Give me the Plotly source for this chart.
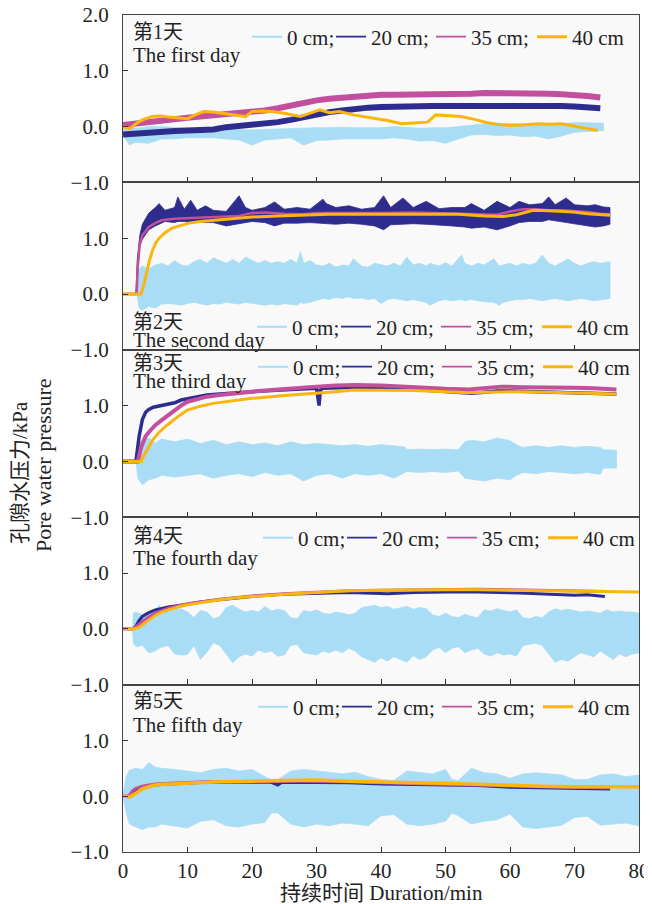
import plotly.graph_objects as go
from plotly.subplots import make_subplots

W, H = 652, 904
# plot area in page pixels (page has an 8 px body margin)
OFF = 8
PL, PR, PT, PB = 123, 639, 15, 852
ML, MR, MT, MB = PL - OFF, W - (PR - OFF), PT - OFF, H - (PB - OFF)

# ---------------- data ----------------
# Day 1
d1_t20 = [0, 2, 4, 6, 8, 10, 12, 14, 16, 18, 20, 22, 24, 26, 28, 30, 32, 34, 36, 38, 40, 42, 44, 46, 48, 50,
          52, 54, 56, 58, 60, 62, 64, 66, 68, 70, 72, 74]
d1_v20 = [-0.14, -0.12, -0.1, -0.08, -0.08, -0.07, -0.07, -0.05, -0.01, 0.01, 0.03, 0.05, 0.08, 0.12, 0.17, 0.23,
          0.26, 0.29, 0.32, 0.34, 0.35, 0.36, 0.36, 0.36, 0.37, 0.37, 0.37, 0.38, 0.38, 0.39, 0.39, 0.39, 0.38,
          0.37, 0.37, 0.36, 0.35, 0.33]
d1_v35 = [0.03, 0.06, 0.09, 0.12, 0.14, 0.16, 0.18, 0.2, 0.22, 0.24, 0.26, 0.29, 0.33, 0.38, 0.43, 0.47, 0.5,
          0.52, 0.54, 0.56, 0.57, 0.57, 0.57, 0.57, 0.58, 0.58, 0.59, 0.59, 0.6, 0.6, 0.61, 0.61, 0.6, 0.59,
          0.58, 0.57, 0.55, 0.52]
d1_t40 = [0, 1, 2, 3, 4.5, 6, 7, 8.5, 10, 11, 12.5, 14, 16, 18, 19, 20, 21.5, 23, 25, 27.5, 29, 30.5, 32, 33.6,
          35.7, 38.4, 41, 43.2, 45, 47.2, 48.5, 50, 52.4, 54.5, 56.5, 58, 60, 62, 64.3, 66, 67.9, 69, 70.5, 72, 73.6]
d1_v40 = [0.0, -0.04, 0.05, 0.12, 0.18, 0.19, 0.17, 0.16, 0.14, 0.2, 0.27, 0.26, 0.23, 0.2, 0.18, 0.27, 0.28,
          0.27, 0.24, 0.18, 0.24, 0.30, 0.25, 0.27, 0.21, 0.16, 0.11, 0.05, 0.06, 0.08, 0.21, 0.2, 0.18, 0.13,
          0.07, 0.04, 0.02, 0.03, 0.05, 0.04, 0.05, 0.03, 0.0, -0.03, -0.07]
d1_t0 = [0, 1, 2, 4, 6, 8, 10, 12, 14, 16, 18, 20, 22, 24, 26, 28, 30, 32, 34, 36, 38, 40, 42, 44, 46, 48, 50,
         52, 54, 56, 58, 60, 62, 64, 66, 68, 70, 72, 74.5]
d1_hi0 = [-0.02, 0.0, -0.03, 0.0, 0.0, -0.02, -0.03, -0.03, -0.04, -0.05, -0.06, -0.06, -0.05, -0.04, -0.03,
          -0.02, -0.02, -0.02, -0.01, -0.02, -0.02, -0.02, 0.0, -0.02, -0.03, -0.02, -0.02, 0.0, 0.03, 0.05,
          0.06, 0.06, 0.05, 0.05, 0.04, 0.06, 0.07, 0.07, 0.06]
d1_lo0 = [-0.15, -0.33, -0.28, -0.3, -0.22, -0.22, -0.2, -0.2, -0.2, -0.22, -0.24, -0.33, -0.24, -0.22, -0.2,
          -0.33, -0.25, -0.24, -0.22, -0.23, -0.22, -0.22, -0.2, -0.22, -0.26, -0.25, -0.3, -0.22, -0.15, -0.14,
          -0.16, -0.15, -0.18, -0.17, -0.22, -0.17, -0.1, -0.08, -0.07]

# Day 2
d2_t20 = [0, 2.0, 2.2, 2.6, 3, 4, 5, 5.6, 6.5, 8, 8.5, 9.5, 10.5, 11.5, 12.8, 14, 16, 18, 19, 20, 22, 23.5, 25,
          27, 29, 31, 31.5, 33, 35, 37, 39, 40.4, 41.5, 43.4, 45, 47, 49, 51, 53, 54, 56, 58, 60, 61.4, 63, 65,
          66, 67, 68.7, 70, 72, 73.2, 74.5, 75.5]
d2_hi20 = [0.01, 0.01, 0.6, 1.05, 1.25, 1.45, 1.55, 1.62, 1.5, 1.55, 1.74, 1.52, 1.68, 1.5, 1.58, 1.5, 1.48,
           1.76, 1.55, 1.5, 1.55, 1.65, 1.52, 1.55, 1.52, 1.7, 1.62, 1.55, 1.58, 1.52, 1.55, 1.76, 1.55, 1.72,
           1.55, 1.66, 1.53, 1.55, 1.55, 1.62, 1.5, 1.66, 1.55, 1.66, 1.6, 1.62, 1.74, 1.6, 1.72, 1.6, 1.58,
           1.6, 1.56, 1.55]
d2_lo20 = [-0.01, -0.01, 0.2, 0.85, 0.98, 1.15, 1.22, 1.25, 1.3, 1.28, 1.3, 1.3, 1.28, 1.3, 1.28, 1.28, 1.22,
           1.25, 1.28, 1.3, 1.28, 1.22, 1.27, 1.27, 1.28, 1.27, 1.26, 1.25, 1.27, 1.25, 1.22, 1.15, 1.24, 1.25,
           1.26, 1.25, 1.24, 1.22, 1.2, 1.18, 1.2, 1.15, 1.22, 1.28, 1.3, 1.3, 1.33, 1.3, 1.28, 1.25, 1.22,
           1.2, 1.22, 1.25]
d2_t35 = [0, 2.1, 2.3, 2.6, 3, 4, 5, 6, 8, 10, 12, 15, 18, 20, 22, 25, 28, 30, 33, 36, 40, 45, 50, 55, 58, 60,
          62, 64, 66, 68, 70, 72, 74, 75.5]
d2_v35 = [0, 0, 0.5, 0.9, 1.05, 1.2, 1.27, 1.32, 1.35, 1.36, 1.37, 1.38, 1.4, 1.45, 1.46, 1.44, 1.43, 1.45,
          1.45, 1.44, 1.45, 1.46, 1.44, 1.42, 1.42, 1.48, 1.52, 1.52, 1.5, 1.5, 1.49, 1.47, 1.44, 1.43]
d2_t40 = [0, 2.8, 3.2, 3.6, 4.1, 4.6, 5.1, 5.6, 6.5, 7.6, 9, 10.2, 12, 13.8, 16, 18, 20, 24, 28, 32, 36, 40,
          44, 48.7, 52, 56, 59, 61, 63.6, 66, 69.8, 72, 75.5]
d2_v40 = [0, 0, 0.15, 0.37, 0.6, 0.79, 0.92, 1.0, 1.1, 1.18, 1.23, 1.27, 1.3, 1.32, 1.34, 1.36, 1.38, 1.4,
          1.42, 1.43, 1.43, 1.43, 1.44, 1.44, 1.43, 1.4, 1.39, 1.42, 1.5, 1.49, 1.47, 1.44, 1.41]
d2_t0 = [0, 2.2, 2.5, 3, 4, 5, 6, 7, 8, 9, 10, 11, 12, 13, 14, 15, 16, 17, 18, 19, 20, 21, 22, 23, 24, 25, 26,
         27, 27.5, 28, 29, 30, 31, 32, 33, 34, 35, 35.7, 37, 38, 39, 40, 41, 42, 43, 44, 45, 46, 47, 47.6, 49,
         50, 51, 52.5, 53, 54, 55, 56, 57.5, 58.3, 59, 60, 61, 62, 63, 64, 65, 66, 67, 68, 69, 70, 71, 72, 73,
         74, 75.5]
d2_hi0 = [0.01, 0.02, 0.45, 0.5, 0.45, 0.52, 0.55, 0.5, 0.6, 0.52, 0.5, 0.58, 0.62, 0.55, 0.65, 0.6, 0.55,
          0.62, 0.55, 0.66, 0.6, 0.55, 0.6, 0.55, 0.58, 0.55, 0.62, 0.55, 0.76, 0.55, 0.6, 0.52, 0.5, 0.55,
          0.48, 0.52, 0.5, 0.63, 0.5, 0.48, 0.55, 0.52, 0.5, 0.55, 0.5, 0.66, 0.52, 0.55, 0.5, 0.55, 0.5, 0.56,
          0.5, 0.7, 0.55, 0.5, 0.55, 0.52, 0.63, 0.5, 0.52, 0.55, 0.5, 0.55, 0.52, 0.55, 0.7, 0.55, 0.5, 0.56,
          0.63, 0.55, 0.5, 0.55, 0.58, 0.55, 0.58]
d2_lo0 = [-0.01, -0.02, -0.25, -0.29, -0.22, -0.25, -0.18, -0.17, -0.18, -0.2, -0.17, -0.15, -0.18, -0.2,
          -0.17, -0.18, -0.15, -0.17, -0.18, -0.15, -0.17, -0.18, -0.2, -0.18, -0.2, -0.17, -0.19, -0.2, -0.15,
          -0.17, -0.15, -0.12, -0.08, -0.1, -0.06, -0.08, -0.05, -0.08, -0.07, -0.1, -0.08, -0.17, -0.1, -0.08,
          -0.1, -0.12, -0.1, -0.12, -0.15, -0.2, -0.12, -0.1, -0.12, -0.1, -0.12, -0.1, -0.12, -0.14, -0.15,
          -0.2, -0.15, -0.12, -0.1, -0.1, -0.08, -0.1, -0.12, -0.1, -0.08, -0.1, -0.12, -0.1, -0.08, -0.1,
          -0.12, -0.1, -0.08]

# Day 3
d3_t20 = [0, 2.0, 2.5, 3, 3.5, 4, 4.7, 5.5, 6, 7, 8, 9, 10, 11, 13, 15, 17, 20, 23, 26, 28, 30, 30.4, 30.6, 31,
          33, 36, 40, 44, 48, 52, 54, 56, 58, 60, 64, 68, 72, 76.5]
d3_v20 = [0, 0, 0.45, 0.75, 0.88, 0.93, 0.97, 0.99, 1.01, 1.03, 1.05, 1.1, 1.12, 1.15, 1.19, 1.21, 1.23, 1.25,
          1.27, 1.29, 1.3, 1.31, 1.0, 1.28, 1.31, 1.32, 1.33, 1.33, 1.3, 1.26, 1.23, 1.22, 1.24, 1.26, 1.26,
          1.25, 1.24, 1.22, 1.21]
d3_t35 = [0, 2.3, 2.8, 3.5, 4.2, 5, 6, 7, 8, 9, 10, 11.5, 13, 15, 17, 20, 23, 26, 30, 33, 36, 40, 43, 46, 50,
          53.6, 56, 58.7, 62, 66.8, 70, 73, 76.5]
d3_v35 = [0, 0, 0.25, 0.45, 0.55, 0.65, 0.74, 0.83, 0.92, 1.0, 1.07, 1.12, 1.16, 1.19, 1.22, 1.25, 1.28, 1.31,
          1.34, 1.36, 1.37, 1.36, 1.34, 1.32, 1.3, 1.29, 1.31, 1.34, 1.33, 1.33, 1.32, 1.31, 1.29]
d3_t40 = [0, 2.8, 3.3, 4, 4.7, 5.5, 6.5, 7.5, 8.7, 10, 12, 14, 17, 20, 25, 30, 33, 35.7, 40, 45, 50, 53.6, 56,
          58.7, 62, 66, 70, 73, 76.5]
d3_v40 = [0, 0, 0.12, 0.27, 0.4, 0.51, 0.62, 0.71, 0.82, 0.92, 0.99, 1.04, 1.09, 1.13, 1.18, 1.22, 1.25, 1.28,
          1.28, 1.27, 1.25, 1.23, 1.24, 1.25, 1.25, 1.24, 1.23, 1.22, 1.21]
d3_t0 = [0, 2.0, 2.3, 3, 4, 5, 6, 8, 10, 12, 14, 16, 18, 20, 22, 24, 26, 28, 30, 32, 34, 36, 38, 40, 42, 43.7,
         44, 46, 48, 50, 52, 53, 54, 56, 58, 60, 61, 62, 64, 66, 68, 70, 72, 74, 74.5, 76.5]
d3_hi0 = [0.01, 0.01, 0.35, 0.37, 0.42, 0.33, 0.4, 0.35, 0.4, 0.32, 0.38, 0.3, 0.35, 0.3, 0.33, 0.28, 0.35,
          0.3, 0.32, 0.3, 0.28, 0.3, 0.27, 0.3, 0.28, 0.26, 0.21, 0.22, 0.21, 0.22, 0.21, 0.35, 0.38, 0.35,
          0.42, 0.37, 0.3, 0.25, 0.28, 0.25, 0.28, 0.25, 0.27, 0.25, 0.21, 0.2]
d3_lo0 = [-0.01, -0.01, -0.3, -0.42, -0.33, -0.3, -0.25, -0.28, -0.25, -0.22, -0.3, -0.25, -0.22, -0.27,
          -0.2, -0.25, -0.22, -0.35, -0.25, -0.22, -0.3, -0.22, -0.25, -0.22, -0.3, -0.2, -0.18, -0.2, -0.18,
          -0.2, -0.17, -0.3, -0.32, -0.35, -0.3, -0.33, -0.25, -0.2, -0.22, -0.18, -0.2, -0.22, -0.2, -0.23,
          -0.12, -0.12]

# Day 4
d4_t20 = [0, 1.5, 2, 2.5, 3, 4, 5, 7, 10, 12, 15, 18, 20, 25, 30, 35, 41, 45, 50, 55, 61.5, 65, 68, 70, 72, 74.7]
d4_v20 = [0, 0, 0.05, 0.15, 0.22, 0.29, 0.34, 0.39, 0.44, 0.48, 0.52, 0.56, 0.58, 0.62, 0.64, 0.65, 0.63, 0.65,
          0.66, 0.66, 0.64, 0.62, 0.6, 0.6, 0.61, 0.58]
d4_t35 = [0, 1.5, 2.5, 3, 4, 5, 7, 10, 15, 20, 25, 30, 35, 40, 45, 50, 55, 60, 65, 70, 75]
d4_v35 = [0, 0, 0.08, 0.13, 0.21, 0.28, 0.37, 0.45, 0.53, 0.59, 0.63, 0.66, 0.68, 0.69, 0.7, 0.71, 0.71, 0.7,
          0.69, 0.68, 0.67]
d4_t40 = [0, 1.8, 2.5, 3, 4, 5, 6, 7, 8.5, 10, 12, 15, 18, 20, 25, 30, 35, 40, 46, 50, 55, 61.5, 65, 70, 75, 80]
d4_v40 = [0, 0, 0.03, 0.07, 0.16, 0.24, 0.3, 0.34, 0.39, 0.43, 0.47, 0.52, 0.56, 0.58, 0.62, 0.65, 0.68, 0.69,
          0.7, 0.7, 0.7, 0.69, 0.68, 0.67, 0.67, 0.66]
d4_t0 = [0, 1.5, 1.6, 2, 3, 4, 5, 5.6, 6, 7, 8, 9, 10, 11, 12, 13, 14, 15, 16, 17, 18, 19, 20, 21, 22, 23, 24,
         25, 26, 27, 28, 29, 30, 31, 32, 33, 34, 35, 36, 37, 38, 39, 40, 41, 42, 43, 44, 45, 46, 47, 48, 49, 50,
         51, 52, 53, 54, 55, 56, 57, 58, 59, 60, 61, 62, 63, 64, 65, 66, 67, 68, 69, 70, 71, 72, 73, 74, 75, 76,
         77, 78, 79, 80]
d4_hi0 = [0.01, 0.01, 0.28, 0.3, 0.25, 0.3, 0.32, 0.42, 0.35, 0.3, 0.34, 0.36, 0.3, 0.2, 0.33, 0.3, 0.18, 0.22,
          0.38, 0.42, 0.35, 0.3, 0.33, 0.3, 0.4, 0.32, 0.35, 0.33, 0.2, 0.18, 0.33, 0.3, 0.34, 0.28, 0.26, 0.3,
          0.28, 0.25, 0.28, 0.38, 0.4, 0.42, 0.38, 0.4, 0.35, 0.38, 0.4, 0.35, 0.38, 0.36, 0.25, 0.22, 0.28,
          0.22, 0.2, 0.26, 0.22, 0.2, 0.34, 0.32, 0.36, 0.33, 0.3, 0.34, 0.2, 0.18, 0.22, 0.2, 0.3, 0.36, 0.33,
          0.35, 0.32, 0.3, 0.32, 0.3, 0.28, 0.34, 0.3, 0.32, 0.3, 0.3, 0.28]
d4_lo0 = [-0.01, -0.01, -0.25, -0.32, -0.3, -0.43, -0.4, -0.35, -0.33, -0.3, -0.45, -0.47, -0.46, -0.3, -0.55,
          -0.42, -0.25, -0.3, -0.45, -0.61, -0.5, -0.45, -0.49, -0.38, -0.43, -0.4, -0.49, -0.47, -0.3, -0.28,
          -0.43, -0.45, -0.47, -0.4, -0.43, -0.38, -0.43, -0.35, -0.4, -0.5, -0.55, -0.6, -0.52, -0.58, -0.5,
          -0.55, -0.6, -0.48, -0.55, -0.5, -0.38, -0.33, -0.43, -0.35, -0.32, -0.43, -0.38, -0.35, -0.45, -0.49,
          -0.43, -0.47, -0.45, -0.49, -0.3, -0.28, -0.26, -0.3, -0.45, -0.6, -0.55, -0.58, -0.5, -0.43, -0.47,
          -0.5, -0.4, -0.48, -0.55, -0.45, -0.5, -0.45, -0.43]

# Day 5
d5_t20 = [0, 0.5, 1, 1.5, 2, 3, 4, 5, 7, 10, 13, 16, 20, 23, 24, 24.5, 25, 28, 30, 35, 40, 45, 50, 55, 60, 65,
          70, 73, 75.5]
d5_v20 = [0, -0.01, -0.01, 0.05, 0.1, 0.15, 0.18, 0.2, 0.22, 0.24, 0.25, 0.25, 0.25, 0.25, 0.2, 0.24, 0.25,
          0.25, 0.25, 0.24, 0.22, 0.21, 0.2, 0.19, 0.16, 0.15, 0.15, 0.14, 0.13]
d5_v35 = [0, 0, 0.02, 0.1, 0.14, 0.18, 0.2, 0.22, 0.23, 0.25, 0.26, 0.26, 0.27, 0.27, 0.27, 0.27, 0.27, 0.27,
          0.27, 0.26, 0.24, 0.22, 0.21, 0.2, 0.18, 0.17, 0.16, 0.16, 0.15]
d5_t40 = [0, 0.5, 1, 2, 3, 4, 5, 7, 10, 15, 20, 25, 30, 35, 40, 45, 50, 55, 60, 65, 70, 75, 80]
d5_v40 = [0.0, 0.0, -0.02, 0.06, 0.13, 0.17, 0.2, 0.22, 0.24, 0.26, 0.27, 0.28, 0.29, 0.27, 0.25, 0.24, 0.23,
          0.21, 0.19, 0.18, 0.17, 0.17, 0.17]
d5_t0 = [0, 0.5, 1, 2, 3, 4, 5, 6, 8, 10, 12, 14, 16, 18, 20, 22, 23, 24, 26, 28, 30, 32, 34, 36, 38, 40, 42,
         44, 46, 48, 50, 51, 52, 54, 56, 58, 60, 62, 64, 66, 68, 70, 72, 74, 76, 78, 80]
d5_hi0 = [0.01, 0.35, 0.47, 0.5, 0.48, 0.6, 0.52, 0.5, 0.48, 0.45, 0.42, 0.48, 0.5, 0.45, 0.48, 0.35, 0.3, 0.3,
          0.45, 0.48, 0.45, 0.42, 0.4, 0.43, 0.35, 0.3, 0.28, 0.45, 0.42, 0.4, 0.48, 0.3, 0.28, 0.5, 0.42, 0.4,
          0.32, 0.4, 0.42, 0.4, 0.38, 0.3, 0.3, 0.38, 0.4, 0.35, 0.38]
d5_lo0 = [-0.01, -0.3, -0.5, -0.55, -0.6, -0.55, -0.55, -0.5, -0.53, -0.57, -0.45, -0.42, -0.53, -0.55, -0.5,
          -0.47, -0.3, -0.3, -0.5, -0.55, -0.5, -0.53, -0.48, -0.5, -0.53, -0.35, -0.33, -0.5, -0.53, -0.5,
          -0.45, -0.3, -0.35, -0.5, -0.45, -0.42, -0.32, -0.55, -0.58, -0.55, -0.52, -0.38, -0.36, -0.52, -0.5,
          -0.48, -0.53]

depth_names = ["0 cm;", "20 cm;", "35 cm;", "40 cm"]
day_cn = ["第1天", "第2天", "第3天", "第4天", "第5天"]
day_en = ["The first day", "The second day", "The third day", "The fourth day", "The fifth day"]
x_ticks = [0, 10, 20, 30, 40, 50, 60, 70, 80]
y_ticks = [-1, 0, 1, 2]
y_ticktext = ["\u22121.0", "0.0", "1.0", "2.0"]

# ---------------- styling ----------------
C0, C20, C35, C40 = "#a9ddf5", "#2e2d8e", "#c2509f", "#fbb50f"
SERIF = "Liberation Serif"
MIX = "Liberation Serif, Noto Sans CJK SC"
TXT = "#222222"
FS = 21


def pxx(px):
    return (px - PL) / (PR - PL)


def pxy(py):
    return (PB - py) / (PB - PT)


fig = make_subplots(rows=5, cols=1, shared_xaxes=True, vertical_spacing=0)


def band(row, t, hi, lo, color):
    fig.add_trace(go.Scatter(x=t + t[::-1], y=hi + lo[::-1], mode="lines", fill="toself",
                             fillcolor=color, line=dict(color=color, width=0.8),
                             showlegend=False, hoverinfo="skip"), row=row, col=1)


def line(row, t, v, color, width):
    fig.add_trace(go.Scatter(x=t, y=v, mode="lines", line=dict(color=color, width=width),
                             showlegend=False, hoverinfo="skip"), row=row, col=1)


# day 1
band(1, d1_t0, d1_hi0, d1_lo0, C0)
line(1, d1_t20, d1_v20, C20, 6)
line(1, d1_t20, d1_v35, C35, 6)
line(1, d1_t40, d1_v40, C40, 3)
# day 2
band(2, d2_t0, d2_hi0, d2_lo0, C0)
band(2, d2_t20, d2_hi20, d2_lo20, C20)
line(2, d2_t35, d2_v35, C35, 2.5)
line(2, d2_t40, d2_v40, C40, 3)
# day 3
band(3, d3_t0, d3_hi0, d3_lo0, C0)
line(3, d3_t20, d3_v20, C20, 3.5)
line(3, d3_t35, d3_v35, C35, 4)
line(3, d3_t40, d3_v40, C40, 3)
# day 4
band(4, d4_t0, d4_hi0, d4_lo0, C0)
line(4, d4_t20, d4_v20, C20, 3)
line(4, d4_t35, d4_v35, C35, 3)
line(4, d4_t40, d4_v40, C40, 3)
# day 5
band(5, d5_t0, d5_hi0, d5_lo0, C0)
line(5, d5_t20, d5_v20, C20, 3)
line(5, d5_t20, d5_v35, C35, 3)
line(5, d5_t40, d5_v40, C40, 3.5)

# legend entries
leg_colors = [C0, C20, C35, C40]
leg_widths = [2, 1.8, 1.8, 3]
leg_entry_w = [39, 55, 56, 53]
for p in range(1, 6):
    lg = "legend" if p == 1 else f"legend{p}"
    for name, c, w, ew in zip(depth_names, leg_colors, leg_widths, leg_entry_w):
        fig.add_trace(go.Scatter(x=[None], y=[None], mode="lines", name=name, legendwidth=ew,
                                 line=dict(color=c, width=w), legend=lg, showlegend=True),
                      row=p, col=1)

leg_pos = [(247, 37), (252, 327), (253, 367), (258, 538), (253, 707)]
leg_layout = {}
for i, (lx, ly) in enumerate(leg_pos):
    key = "legend" if i == 0 else f"legend{i + 1}"
    leg_layout[key] = dict(orientation="h", x=pxx(lx), xanchor="left", y=pxy(ly), yanchor="middle",
                           bgcolor="rgba(0,0,0,0)", borderwidth=0,
                           font=dict(family=SERIF, size=FS, color=TXT), itemwidth=30)

fig.update_layout(width=W, height=H, margin=dict(l=ML, r=MR, t=MT, b=MB, autoexpand=False),
                  paper_bgcolor="white", plot_bgcolor="#f9f9f9", **leg_layout)

for r in range(1, 6):
    fig.update_xaxes(range=[0, 80], tickvals=x_ticks, ticks="inside", ticklen=5, tickcolor="#333",
                     showline=True, linecolor="#444", linewidth=1.3, mirror=True, showgrid=False,
                     zeroline=False, showticklabels=(r == 5), ticklabeloverflow="allow",
                     tickfont=dict(family=SERIF, size=FS, color=TXT), row=r, col=1)
    tv = y_ticks if r == 1 else y_ticks[:3]
    tt = y_ticktext if r == 1 else y_ticktext[:3]
    fig.update_yaxes(range=[-1, 2], tickvals=tv, ticktext=tt, ticks="inside", ticklen=5, tickcolor="#333",
                     showline=True, linecolor="#444", linewidth=1.3, mirror=True, showgrid=False,
                     zeroline=False, ticklabelstandoff=9, ticklabeloverflow="allow",
                     tickfont=dict(family=SERIF, size=FS, color=TXT), row=r, col=1)

# panel labels
cn_pos = [32, 322, 363, 536, 701]
en_pos = [55, 340, 381, 558, 725]
anns = []
for i in range(5):
    anns.append(dict(text=day_cn[i], x=pxx(131), y=pxy(cn_pos[i]), xref="paper", yref="paper",
                     xanchor="left", yanchor="middle", showarrow=False,
                     font=dict(family=MIX, size=20, color=TXT)))
    anns.append(dict(text=day_en[i], x=pxx(131), y=pxy(en_pos[i]), xref="paper", yref="paper",
                     xanchor="left", yanchor="middle", showarrow=False,
                     font=dict(family=SERIF, size=FS, color=TXT)))
anns.append(dict(text="孔隙水压力/kPa", x=pxx(20), y=pxy(473), xref="paper", yref="paper",
                 xanchor="center", yanchor="middle", textangle=-90, showarrow=False,
                 font=dict(family=MIX, size=21, color=TXT)))
anns.append(dict(text="Pore water pressure", x=pxx(43), y=pxy(465), xref="paper", yref="paper",
                 xanchor="center", yanchor="middle", textangle=-90, showarrow=False,
                 font=dict(family=SERIF, size=22, color=TXT)))
anns.append(dict(text="持续时间 Duration/min", x=pxx(381), y=pxy(893), xref="paper", yref="paper",
                 xanchor="center", yanchor="middle", showarrow=False,
                 font=dict(family=MIX, size=21, color=TXT)))
fig.update_layout(annotations=anns)

fig.write_html("out.html")
